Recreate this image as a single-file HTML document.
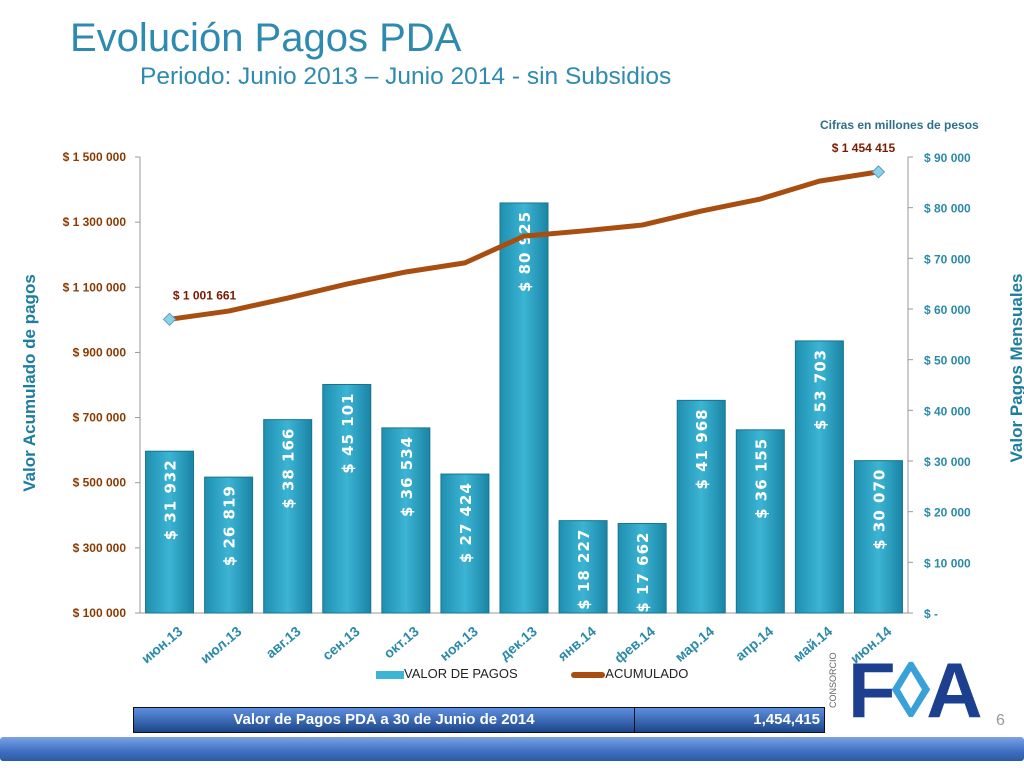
<!DOCTYPE html>
<html><head><meta charset="utf-8"><style>
body{margin:0;width:1024px;height:768px;background:#fff;overflow:hidden;position:relative;font-family:"Liberation Sans",sans-serif}
.t{position:absolute}
</style></head><body>
<div class="t" style="left:70px;top:16px;font-size:40px;color:#2f8ab0">Evolución Pagos PDA</div>
<div class="t" style="left:140px;top:63px;font-size:24.5px;color:#2f8ab0">Periodo: Junio 2013 – Junio 2014 - sin Subsidios</div>
<svg id="c" width="1024" height="768" style="position:absolute;left:0;top:0">
<defs>
<linearGradient id="bg" x1="0" x2="1"><stop offset="0" stop-color="#1f8fb0"/><stop offset="0.5" stop-color="#3cb4d4"/><stop offset="1" stop-color="#1a84a5"/></linearGradient>
</defs>
<g id="g"></g>
</svg>
<div class="t" style="left:820px;top:118px;font-size:12px;font-weight:bold;color:#2f6f8a">Cifras en millones de pesos</div>
<div class="t" style="left:-85px;top:373px;width:230px;text-align:center;transform:rotate(-90deg);font-size:17px;font-weight:bold;color:#1d7da0">Valor Acumulado de pagos</div>
<div class="t" style="left:902px;top:358px;width:230px;text-align:center;transform:rotate(-90deg);font-size:17px;font-weight:bold;color:#1d7da0">Valor Pagos Mensuales</div>
<div class="t" style="left:376px;top:666px;font-size:13px;color:#222">
<span><span style="display:inline-block;width:28px;height:8px;background:#3cb4d4;vertical-align:middle"></span>VALOR DE PAGOS</span>
<span style="margin-left:50px"><span style="display:inline-block;width:34px;height:6px;border-radius:3px;background:#a84e10;vertical-align:middle"></span>ACUMULADO</span></div>
<div class="t" style="left:133px;top:707px;width:690px;height:24px;background:linear-gradient(#5d8ee0,#1d468a);border:1px solid #111;display:flex;color:#fff;font-weight:bold;font-size:15px;line-height:24px">
<div style="width:500px;text-align:center;border-right:1px solid #111">Valor de Pagos PDA a 30 de Junio de 2014</div>
<div style="flex:1;text-align:right;padding-right:4px">1,454,415</div></div>
<div class="t" style="left:848px;top:650px;font-size:78px;font-weight:bold;color:#1d3f8f;letter-spacing:-4px;line-height:80px">F<span style="color:#3aa0d8">◊</span>A</div>
<div class="t" style="left:828px;font-size:9px;color:#666;transform:rotate(-90deg);transform-origin:left top;top:708px">CONSORCIO</div>
<div class="t" style="left:996px;top:712px;font-size:16px;color:#999">6</div>
<div class="t" style="left:0;top:737px;width:1024px;height:24px;background:linear-gradient(#7aa3e6,#3f6fc0 60%,#2a5aa8);border-radius:3px"></div>
<script>
const months=["июн.13","июл.13","авг.13","сен.13","окт.13","ноя.13","дек.13","янв.14","фев.14","мар.14","апр.14","май.14","июн.14"];
const pagos=[31932,26819,38166,45101,36534,27424,80925,18227,17662,41968,36155,53703,30070];
const acumulado=[1001661,1027000,1067000,1110000,1147000,1175000,1257000,1273000,1291000,1334000,1371000,1426000,1454415];
const leftTicks=[100000,300000,500000,700000,900000,1100000,1300000,1500000];
const rightTicks=[0,10000,20000,30000,40000,50000,60000,70000,80000,90000];
const NS="http://www.w3.org/2000/svg",g=document.getElementById('g');
const x0=140,x1=908,yb=613,yt=157,bw=(x1-x0)/months.length;
const yL=v=>yb-(v-100000)/1400000*(yb-yt), yR=v=>yb-v/90000*(yb-yt), xc=i=>x0+bw*(i+0.5);
const fmt=v=>String(v).replace(/\B(?=(\d{3})+(?!\d))/g," ");
function el(t,a,txt){const e=document.createElementNS(NS,t);for(const k in a)e.setAttribute(k,a[k]);if(txt!=null)e.textContent=txt;g.appendChild(e);return e;}
let e;
e=el('line',{x1:x0,y1:yt,x2:x0,y2:yb,stroke:'#999'});
e=el('line',{x1:x1,y1:yt,x2:x1,y2:yb,stroke:'#999'});
e=el('line',{x1:x0,y1:yb,x2:x1,y2:yb,stroke:'#999'});
leftTicks.forEach(v=>{const y=yL(v);el('line',{x1:x0-5,y1:y,x2:x0,y2:y,stroke:'#999'});
e=el('text',{x:x0-14,y:y+4,'text-anchor':'end','font-size':12,'font-weight':'bold',fill:'#8a3a00'},'$ '+fmt(v));});
rightTicks.forEach(v=>{const y=yR(v);el('line',{x1:x1,y1:y,x2:x1+5,y2:y,stroke:'#999'});
e=el('text',{x:x1+16,y:y+5,'font-size':12,'font-weight':'bold',fill:'#2a8aa8'},v?'$ '+fmt(v):'$ -');});
pagos.forEach((v,i)=>{const x=xc(i),y=yR(v),w=48;
e=el('rect',{x:x-w/2,y:y,width:w,height:yb-y,fill:'url(#bg)',stroke:'#17758f','stroke-width':1});
const ly=y+8;
e=el('text',{x:x+6,y:ly,transform:`rotate(-90 ${x+6} ${ly})`,'text-anchor':'end','font-size':15,'font-weight':'bold',fill:'#fff','font-family':'DejaVu Sans','letter-spacing':'1'},'$ '+fmt(v));

e=el('text',{x:x+14,y:yb+20,transform:`rotate(-40 ${x+14} ${yb+20})`,'text-anchor':'end','font-size':14,'font-weight':'bold',fill:'#2a8aa8'},months[i]);
});
e=el('polyline',{points:acumulado.map((v,i)=>xc(i)+','+yL(v)).join(' '),fill:'none',stroke:'#a84e10','stroke-width':5,'stroke-linejoin':'round'});
[0,acumulado.length-1].forEach(i=>{const x=xc(i),y=yL(acumulado[i]);
e=el('path',{d:`M${x} ${y-6}L${x+6} ${y}L${x} ${y+6}L${x-6} ${y}Z`,fill:'#8fd0e8',stroke:'#5aa0c0'});
e=el('text',{x:i?x-15:x+35,y:y-20,'text-anchor':'middle','font-size':12,'font-weight':'bold',fill:'#7a1a00'},'$ '+fmt(acumulado[i]));});
</script>
</body></html>
